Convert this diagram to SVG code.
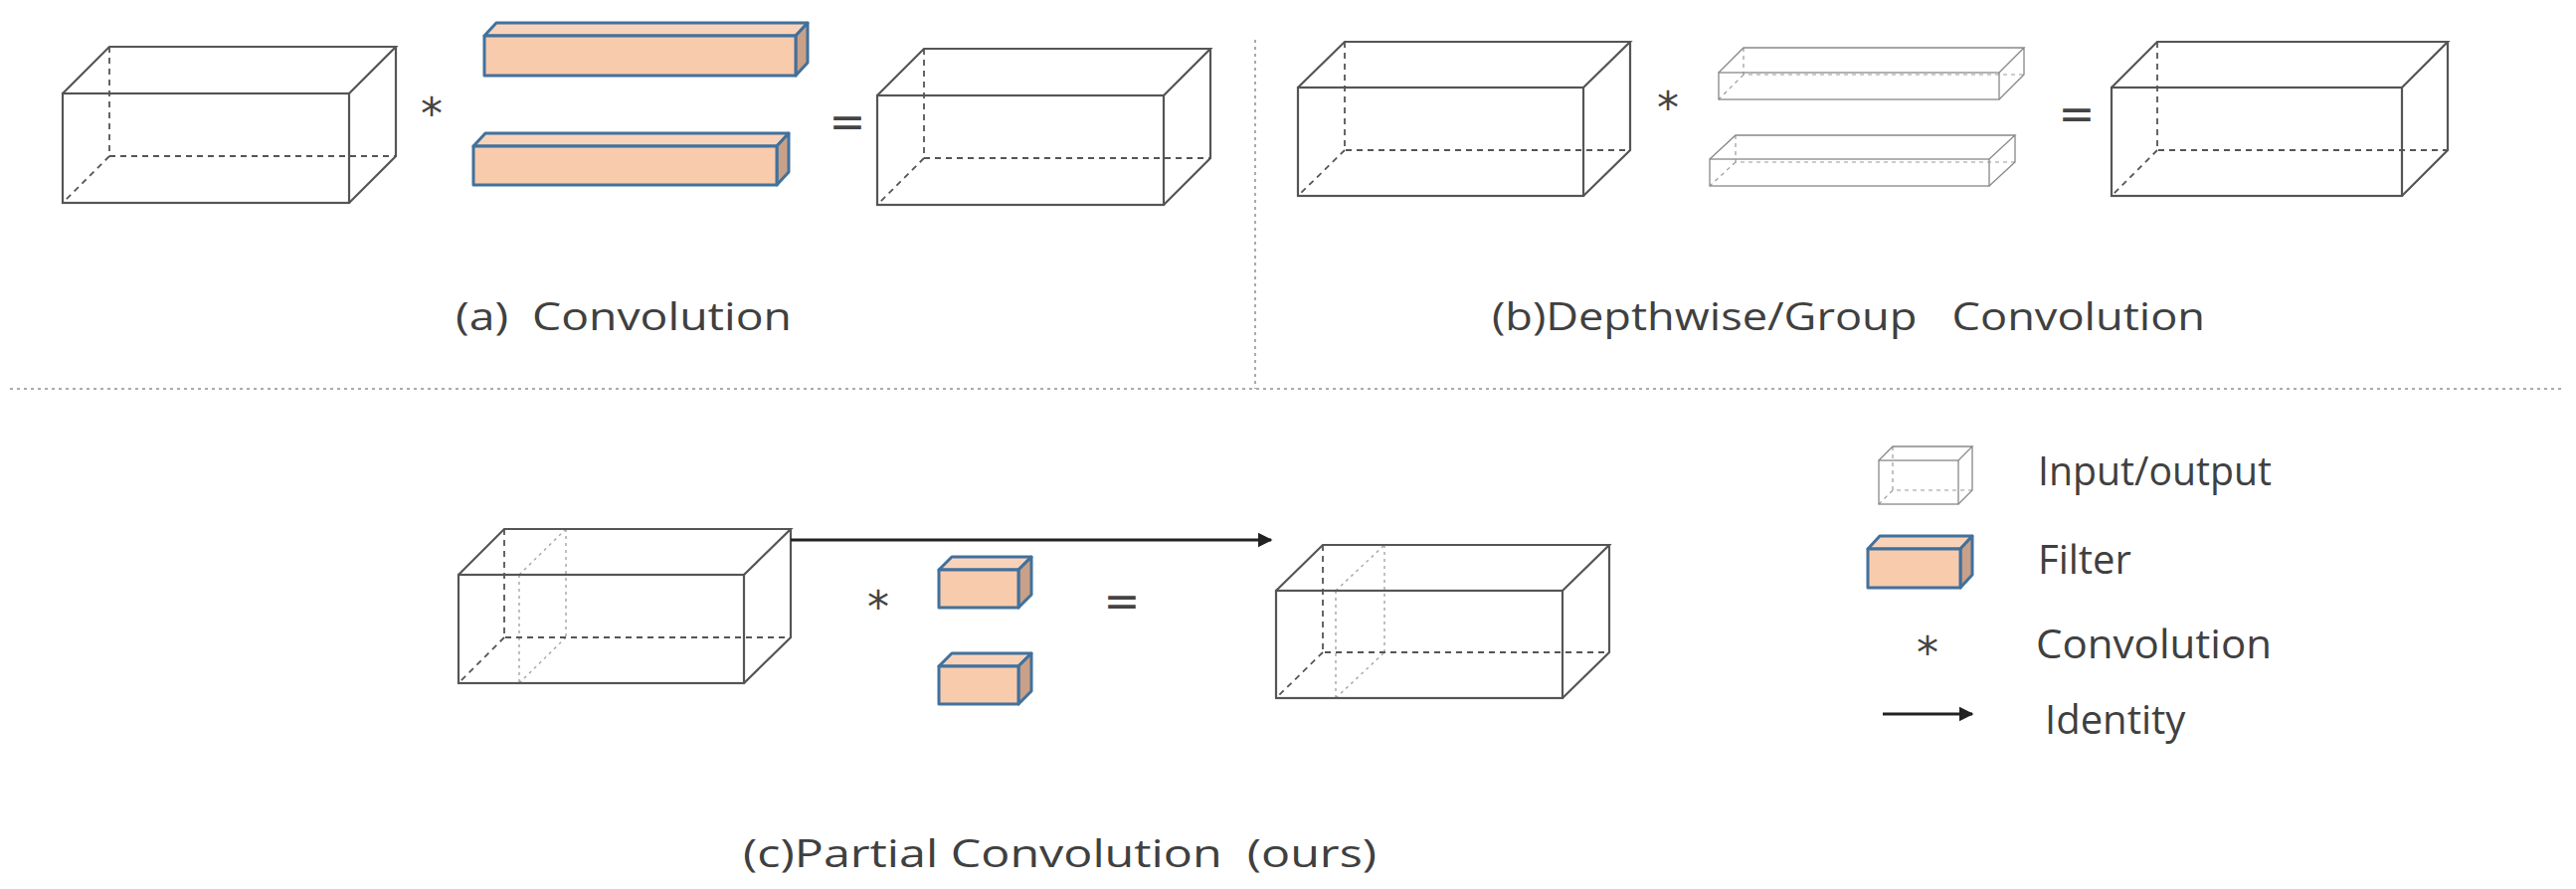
<svg xmlns="http://www.w3.org/2000/svg" width="2590" height="894" viewBox="0 0 2590 894">
<style>
.e{fill:none;stroke:#555;stroke-width:2.2}
.h{fill:none;stroke:#555;stroke-width:1.8;stroke-dasharray:6 5}
.p{fill:none;stroke:#aaa;stroke-width:1.5;stroke-dasharray:3 4}
.t{fill:none;stroke:#888;stroke-width:1.3}
.th{fill:none;stroke:#999;stroke-width:1.2;stroke-dasharray:4 4}
.ff{fill:#f8cbad;stroke:#41719c;stroke-width:3;stroke-linejoin:round}
.ft{fill:#f9d3b9;stroke:#41719c;stroke-width:3;stroke-linejoin:round}
.fs{fill:#c9a088;stroke:#41719c;stroke-width:3;stroke-linejoin:round}
.div{fill:none;stroke:#aaa;stroke-width:2;stroke-dasharray:3 4}
.lbl{font-family:"Open Sans","Noto Sans",sans-serif;fill:#404040;font-size:38px}
.lg{font-family:"Open Sans","Noto Sans",sans-serif;fill:#404040;font-size:40px}
.op{font-family:"DejaVu Sans",sans-serif;fill:#444;font-size:44px;text-anchor:middle}
.ar{fill:none;stroke:#222;stroke-width:3}
</style>
<defs>
<marker id="ah" viewBox="0 0 10 10" refX="9" refY="5" markerWidth="5" markerHeight="5" orient="auto" markerUnits="strokeWidth"><path d="M0,0 L10,5 L0,10 z" fill="#222"/></marker>
</defs>
<g id="dividers">
<path class="div" d="M1262,40 V391"/>
<path class="div" d="M10,391 H2575"/>
</g>
<g id="a-input">
<path class="h" d="M110,47 V157 H398 M110,157 L63,204"/>
<rect class="e" x="63" y="94" width="288" height="110"/>
<path class="e" d="M63,94 L110,47 H398 L351,94 M398,47 V157 L351,204"/>
</g>
<g id="a-filters">
<path class="ft" d="M487,36 L499,23 H812 L800,36 Z"/>
<path class="fs" d="M800,36 L812,23 V63 L800,76 Z"/>
<rect class="ff" x="487" y="36" width="313" height="40"/>
<path class="ft" d="M476,147 L488,134 H793 L781,147 Z"/>
<path class="fs" d="M781,147 L793,134 V173 L781,186 Z"/>
<rect class="ff" x="476" y="147" width="305" height="39"/>
</g>
<text class="op" x="434" y="130">*</text>
<text class="op" x="852" y="138">=</text>
<g id="a-output">
<path class="h" d="M929,49 V159 H1217 M929,159 L882,206"/>
<rect class="e" x="882" y="96" width="288" height="110"/>
<path class="e" d="M882,96 L929,49 H1217 L1170,96 M1217,49 V159 L1170,206"/>
</g>
<text class="lbl" x="458" y="332" xml:space="preserve" textLength="338" lengthAdjust="spacingAndGlyphs">(a)  Convolution</text>
<g id="b-input">
<path class="h" d="M1352,42 V151 H1639 M1352,151 L1305,197"/>
<rect class="e" x="1305" y="88" width="287" height="109"/>
<path class="e" d="M1305,88 L1352,42 H1639 L1592,88 M1639,42 V151 L1592,197"/>
</g>
<g id="b-filters">
<path class="th" d="M1753,48 V75 H2035 M1753,75 L1728,100"/>
<rect class="t" x="1728" y="73" width="282" height="27"/>
<path class="t" d="M1728,73 L1753,48 H2035 L2010,73 M2035,48 V75 L2010,100"/>
<path class="th" d="M1745,136 V163 H2026 M1745,163 L1719,187"/>
<rect class="t" x="1719" y="160" width="281" height="27"/>
<path class="t" d="M1719,160 L1745,136 H2026 L2000,160 M2026,136 V163 L2000,187"/>
</g>
<text class="op" x="1677" y="124">*</text>
<text class="op" x="2088" y="130">=</text>
<g id="b-output">
<path class="h" d="M2169,42 V151 H2461 M2169,151 L2123,197"/>
<rect class="e" x="2123" y="88" width="292" height="109"/>
<path class="e" d="M2123,88 L2169,42 H2461 L2415,88 M2461,42 V151 L2415,197"/>
</g>
<text class="lbl" x="1500" y="332" xml:space="preserve" textLength="717" lengthAdjust="spacingAndGlyphs">(b)Depthwise/Group   Convolution</text>
<g id="c-input">
<path class="p" d="M522,578 V687 M569,532 V641 M522,578 L569,532 M522,687 L569,641"/>
<path class="h" d="M507,532 V641 H795 M507,641 L461,687"/>
<rect class="e" x="461" y="578" width="287" height="109"/>
<path class="e" d="M461,578 L507,532 H795 L748,578 M795,532 V641 L748,687"/>
</g>
<g id="c-filters">
<path class="ft" d="M944,573 L957,560 H1037 L1024,573 Z"/>
<path class="fs" d="M1024,573 L1037,560 V598 L1024,611 Z"/>
<rect class="ff" x="944" y="573" width="80" height="38"/>
<path class="ft" d="M944,670 L957,657 H1037 L1024,670 Z"/>
<path class="fs" d="M1024,670 L1037,657 V695 L1024,708 Z"/>
<rect class="ff" x="944" y="670" width="80" height="38"/>
</g>
<text class="op" x="883" y="626">*</text>
<text class="op" x="1128" y="620">=</text>
<g id="c-output">
<path class="p" d="M1343,594 V702 M1392,548 V656 M1343,594 L1392,548 M1343,702 L1392,656"/>
<path class="h" d="M1330,548 V656 H1618 M1330,656 L1283,702"/>
<rect class="e" x="1283" y="594" width="288" height="108"/>
<path class="e" d="M1283,594 L1330,548 H1618 L1571,594 M1618,548 V656 L1571,702"/>
</g>
<g id="connectors">
<path class="ar" d="M795,543 H1278" marker-end="url(#ah)"/>
</g>
<text class="lbl" x="747" y="872" xml:space="preserve" textLength="637" lengthAdjust="spacingAndGlyphs">(c)Partial Convolution  (ours)</text>
<g id="legend">
<path class="th" d="M1903,449 V493 H1983 M1903,493 L1889,507"/>
<rect class="t" x="1889" y="463" width="80" height="44"/>
<path class="t" d="M1889,463 L1903,449 H1983 L1969,463 M1983,449 V493 L1969,507"/>
<path class="ft" d="M1878,552 L1890,539 H1983 L1971,552 Z"/>
<path class="fs" d="M1971,552 L1983,539 V578 L1971,591 Z"/>
<rect class="ff" x="1878" y="552" width="93" height="39"/>
<text class="op" x="1938" y="672">*</text>
<path class="ar" d="M1893,718 H1983" marker-end="url(#ah)"/>
<text class="lg" x="2049" y="488" textLength="235" lengthAdjust="spacingAndGlyphs">Input/output</text>
<text class="lg" x="2049" y="577">Filter</text>
<text class="lg" x="2047" y="662" textLength="237" lengthAdjust="spacingAndGlyphs">Convolution</text>
<text class="lg" x="2056" y="738">Identity</text>
</g>
</svg>
